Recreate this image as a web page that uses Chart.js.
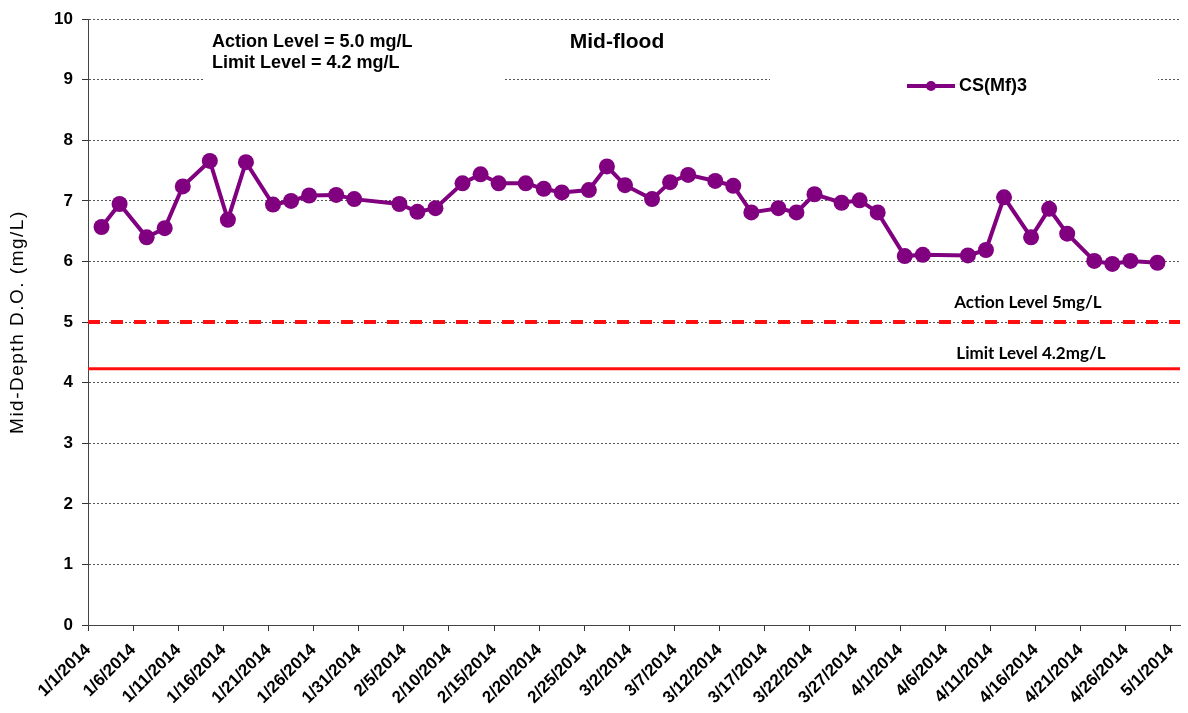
<!DOCTYPE html>
<html>
<head>
<meta charset="utf-8">
<script src="https://cdn.jsdelivr.net/npm/chart.js@4/dist/chart.umd.min.js"></script>
<style>
  html, body { margin: 0; padding: 0; background: #fff; }
  #wrap { width: 1188px; height: 713px; }
</style>
</head>
<body>
<div id="wrap"><canvas id="doChart"></canvas></div>
<script>
// sample dates (2014) and mid-depth DO readings for CS(Mf)3
const sampleDates = [
    '1/2', '1/4', '1/7', '1/9', '1/11', '1/14', '1/16', '1/18', '1/21', '1/23',
    '1/25', '1/28', '1/30', '2/4', '2/6', '2/8', '2/11', '2/13', '2/15', '2/18',
    '2/20', '2/22', '2/25', '2/27', '3/1', '3/4', '3/6', '3/8', '3/11', '3/13',
    '3/15', '3/18', '3/20', '3/22', '3/25', '3/27', '3/29', '4/1', '4/3', '4/8',
    '4/10', '4/12', '4/15', '4/17', '4/19', '4/22', '4/24', '4/26', '4/29'
];
const csMf3 = [
    6.57, 6.95, 6.40, 6.55, 7.24, 7.66, 6.69, 7.64, 6.94, 7.00,
    7.09, 7.10, 7.03, 6.95, 6.82, 6.88, 7.29, 7.44, 7.29, 7.29,
    7.20, 7.14, 7.18, 7.57, 7.26, 7.03, 7.31, 7.43, 7.33, 7.25,
    6.81, 6.88, 6.81, 7.11, 6.97, 7.01, 6.81, 6.09, 6.11, 6.10,
    6.19, 7.06, 6.40, 6.87, 6.46, 6.01, 5.96, 6.01, 5.98
];

const actionLevel = 5.0;
const limitLevel = 4.23;

const xTickLabels = [
    '1/1/2014', '1/6/2014', '1/11/2014', '1/16/2014', '1/21/2014', '1/26/2014',
    '1/31/2014', '2/5/2014', '2/10/2014', '2/15/2014', '2/20/2014', '2/25/2014',
    '3/2/2014', '3/7/2014', '3/12/2014', '3/17/2014', '3/22/2014', '3/27/2014',
    '4/1/2014', '4/6/2014', '4/11/2014', '4/16/2014', '4/21/2014', '4/26/2014',
    '5/1/2014'
];
const yTicks = [0, 1, 2, 3, 4, 5, 6, 7, 8, 9, 10];

// days since 1/1/2014
function dayOf(str) {
    const p = str.split('/').map(Number);
    const year = p[2] || 2014;
    return (Date.UTC(year, p[0] - 1, p[1]) - Date.UTC(2014, 0, 1)) / 86400000;
}

const tickDays = xTickLabels.map(dayOf);
const xMax = tickDays[tickDays.length - 1] + 1;

// excel date axis puts each point in the middle of its day
const seriesPoints = sampleDates.map((d, i) => ({ x: dayOf(d) + 0.5, y: csMf3[i] }));

const BOLD = '"Liberation Sans", Arial, sans-serif';
const purple = '#800080';
const red = '#ff1010';

const overlayPlugin = {
    id: 'overlay',
    beforeDatasetsDraw(chart) {
        // text boxes in the original sit on top of the 9 gridline
        const ctx = chart.ctx;
        ctx.save();
        ctx.fillStyle = '#fff';
        ctx.fillRect(203, 70, 302, 16);
        ctx.fillRect(770, 70, 388, 16);
        ctx.restore();
    },
    afterDraw(chart) {
        const ctx = chart.ctx;
        const y = chart.scales.y;
        ctx.save();
        ctx.fillStyle = '#000';
        ctx.textBaseline = 'middle';

        // y axis title, a bit spread out like the original
        ctx.save();
        ctx.translate(18, (y.top + y.bottom) / 2);
        ctx.rotate(-Math.PI / 2);
        ctx.font = '19px ' + BOLD;
        ctx.letterSpacing = '1.5px';
        ctx.textAlign = 'center';
        ctx.fillText('Mid-Depth D.O. (mg/L)', 0, 0);
        ctx.restore();

        ctx.font = 'bold 18px ' + BOLD;
        ctx.textAlign = 'left';
        ctx.fillText('Action Level = 5.0 mg/L', 212, 42);
        ctx.fillText('Limit Level = 4.2 mg/L', 212, 63);

        ctx.font = 'bold 21px ' + BOLD;
        ctx.textAlign = 'center';
        ctx.fillText('Mid-flood', 617, 42);

        // legend
        ctx.strokeStyle = purple;
        ctx.lineWidth = 4;
        ctx.beginPath();
        ctx.moveTo(907, 86);
        ctx.lineTo(955, 86);
        ctx.stroke();
        ctx.fillStyle = purple;
        ctx.beginPath();
        ctx.arc(931, 86, 5, 0, Math.PI * 2);
        ctx.fill();
        ctx.fillStyle = '#000';
        ctx.font = 'bold 18px ' + BOLD;
        ctx.textAlign = 'left';
        ctx.fillText('CS(Mf)3', 959, 86);

        // line labels
        ctx.font = 'bold 17px Lato, "Open Sans", sans-serif';
        ctx.textAlign = 'center';
        ctx.fillText('Action Level 5mg/L', 1028, y.getPixelForValue(actionLevel) - 20);
        ctx.fillText('Limit Level 4.2mg/L', 1031, y.getPixelForValue(limitLevel) - 15);
        ctx.restore();
    }
};

new Chart(document.getElementById('doChart'), {
    type: 'line',
    data: {
        datasets: [
            {
                label: 'CS(Mf)3',
                data: seriesPoints,
                borderColor: purple,
                backgroundColor: purple,
                borderWidth: 4,
                pointRadius: 8,
                pointHoverRadius: 8,
                pointBorderWidth: 0,
                tension: 0
            },
            {
                label: 'Action Level',
                data: [{ x: 0, y: actionLevel }, { x: xMax, y: actionLevel }],
                borderColor: red,
                borderWidth: 4,
                borderDash: [12, 11],
                pointRadius: 0
            },
            {
                label: 'Limit Level',
                data: [{ x: 0, y: limitLevel }, { x: xMax, y: limitLevel }],
                borderColor: red,
                borderWidth: 3,
                pointRadius: 0
            }
        ]
    },
    options: {
        responsive: true,
        maintainAspectRatio: false,
        animation: false,
        layout: { padding: { top: 17, right: 8, left: 0, bottom: 0 } },
        plugins: {
            legend: { display: false },
            tooltip: { enabled: false }
        },
        scales: {
            x: {
                type: 'linear',
                min: 0,
                max: xMax,
                afterBuildTicks(scale) {
                    scale.ticks = tickDays.map(v => ({ value: v }));
                },
                afterFit(scale) {
                    scale.height = 88;
                    scale.paddingLeft = 0;
                    scale.paddingRight = 0;
                },
                grid: {
                    drawOnChartArea: false,
                    drawTicks: true,
                    tickLength: 6,
                    tickColor: '#333'
                },
                border: { color: '#444', width: 1 },
                ticks: {
                    autoSkip: false,
                    maxRotation: 45,
                    minRotation: 45,
                    padding: 9,
                    color: '#000',
                    font: { family: BOLD, size: 17, weight: 'bold' },
                    callback: (value, index) => xTickLabels[index]
                }
            },
            y: {
                min: 0,
                max: 10,
                afterBuildTicks(scale) {
                    scale.ticks = yTicks.map(v => ({ value: v }));
                },
                afterFit(scale) {
                    scale.width = 88;
                },
                grid: {
                    color: '#555',
                    lineWidth: 1,
                    tickLength: 6,
                    tickColor: '#333'
                },
                border: { color: '#444', width: 1, dash: [2, 2] },
                ticks: {
                    color: '#000',
                    padding: 9,
                    font: { family: BOLD, size: 17, weight: 'bold' }
                }
            }
        }
    },
    plugins: [overlayPlugin]
});
</script>
</body>
</html>
